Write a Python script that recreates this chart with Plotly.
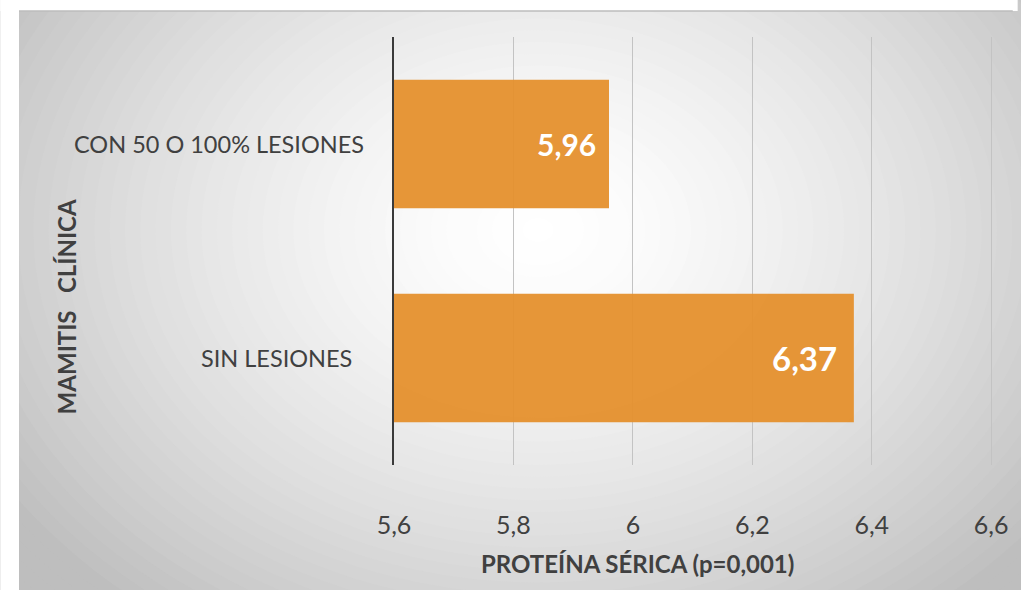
import plotly.graph_objects as go

# Data
categories = ["SIN LESIONES", "CON 50 O 100% LESIONES"]
values = [6.37, 5.96]
tick_vals = [5.6, 5.8, 6.0, 6.2, 6.4, 6.6]
x_title = "PROTEÍNA SÉRICA (p=0,001)"
y_title = "MAMITIS   CLÍNICA"

W, H = 1021, 590
L, R, T, B = 394, 20, 37, 125
PW, PH = W - L - R, H - T - B

FONT = "Lato"
TXT = "#404040"
BAR = "rgba(228,143,44,0.94)"


def px_x(px):
    return (px - L) / PW


def px_y(py):
    return (H - B - py) / PH


fig = go.Figure()
fig.add_trace(go.Bar(
    x=values, y=categories, orientation="h",
    marker=dict(color=BAR, line=dict(width=0)),
    width=0.6, hoverinfo="skip",
))

# Radial grey-to-white background built from stacked ellipses
shapes = []
cx, cy, rx, ry = 540, 230, 620, 470


def shade(d):
    g = 255 - 60 * d ** 1.5
    g = max(190, min(255, int(round(g))))
    return f"rgb({g},{g},{g})"


shapes.append(dict(type="rect", xref="paper", yref="paper", layer="below",
                   x0=px_x(14), x1=px_x(W), y0=px_y(H), y1=px_y(11),
                   fillcolor=shade(1.2), line=dict(width=0)))
N = 48
for k in range(N):
    s = 1.2 * (1 - k / N)
    shapes.append(dict(type="circle", xref="paper", yref="paper", layer="below",
                       x0=px_x(cx - rx * s), x1=px_x(cx + rx * s),
                       y0=px_y(cy + ry * s), y1=px_y(cy - ry * s),
                       fillcolor=shade(s), line=dict(width=0)))
# white page margin on top and left of the chart panel
shapes.append(dict(type="rect", xref="paper", yref="paper", layer="below",
                   x0=px_x(-5), x1=px_x(14), y0=px_y(H + 5), y1=px_y(-5),
                   fillcolor="white", line=dict(width=0)))
shapes.append(dict(type="rect", xref="paper", yref="paper", layer="below",
                   x0=px_x(-5), x1=px_x(W + 5), y0=px_y(11), y1=px_y(-5),
                   fillcolor="white", line=dict(width=0)))
shapes.append(dict(type="line", xref="paper", yref="paper", layer="below",
                   x0=px_x(14), x1=px_x(W), y0=px_y(11), y1=px_y(11),
                   line=dict(color="#bcbcbc", width=1.5)))

annotations = []
# Category labels
cat_right = {"CON 50 O 100% LESIONES": 366, "SIN LESIONES": 353}
for c in categories:
    annotations.append(dict(x=px_x(cat_right[c]), xref="paper", y=c, yref="y",
                            text=c, showarrow=False, xanchor="right", yanchor="middle",
                            font=dict(family=FONT, size=23.5, color=TXT)))
# Value labels inside bar ends
label_sizes = [33, 30]
label_shift = [-15, -11]
for c, v, sz, sh in zip(categories, values, label_sizes, label_shift):
    annotations.append(dict(x=v, xref="x", y=c, yref="y",
                            text=f"<b>{v:.2f}</b>".replace(".", ","),
                            showarrow=False, xanchor="right", yanchor="middle",
                            xshift=sh, font=dict(family=FONT, size=sz, color="white")))
# Axis titles
annotations.append(dict(x=px_x(641), xref="paper", y=px_y(563), yref="paper",
                        text=f"<b>{x_title}</b>", showarrow=False,
                        xanchor="center", yanchor="middle",
                        font=dict(family=FONT, size=24, color=TXT)))
annotations.append(dict(x=px_x(62), xref="paper", y=px_y(307), yref="paper",
                        text=f"<b>{y_title}</b>", showarrow=False, textangle=-90,
                        xanchor="center", yanchor="middle",
                        font=dict(family=FONT, size=24, color=TXT)))

fig.update_layout(
    width=W, height=H,
    margin=dict(l=L, r=R, t=T, b=B, pad=0),
    paper_bgcolor="white", plot_bgcolor="rgba(0,0,0,0)",
    separators=",.",
    showlegend=False, bargap=0.4,
    shapes=shapes, annotations=annotations,
    font=dict(family=FONT, color=TXT),
    # tiny headroom past 6.6 keeps its gridline inside the plot edge
    xaxis=dict(range=[5.6, 6.603], tickvals=tick_vals, tickformat="~r",
               showgrid=True, gridcolor="#c3c3c3", gridwidth=1,
               zeroline=False, showline=False, ticks="",
               ticklabelstandoff=43, ticklabeloverflow="allow",
               tickfont=dict(family=FONT, size=25, color=TXT)),
    yaxis=dict(categoryorder="array", categoryarray=categories,
               range=[-0.5, 1.5], showticklabels=False, ticks="",
               showgrid=False, zeroline=False,
               showline=True, linecolor="#3a3a3a", linewidth=2),
)

fig.write_html("out.html")
